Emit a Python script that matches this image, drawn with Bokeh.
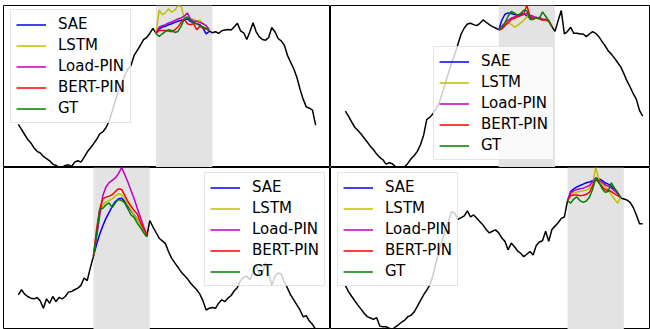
import numpy as np
from bokeh.plotting import figure
from bokeh.layouts import gridplot
from bokeh.models import Range1d, BoxAnnotation, Legend, LegendItem
from bokeh.embed import file_html
from bokeh.resources import INLINE

nan = float("nan")

# 15-minute load profiles (kW) for four test days; nan marks the masked gap
N_STEPS = 96
steps = list(range(N_STEPS))

models = ["SAE", "LSTM", "Load-PIN", "BERT-PIN", "GT"]
colors = ["#0000ff", "#bfbf00", "#bf00bf", "#ff0000", "#008000"]

# ---- day 1 ----
d1_gap_start = 44
d1_observed = [
    1.30, 1.15, 1.00, 0.85, 0.75, 0.60, 0.50, 0.45, 0.35, 0.28,
    0.22, 0.12, 0.08, 0.02, 0.03, 0.08, 0.10, 0.05, 0.18, 0.22,
    0.18, 0.32, 0.48, 0.60, 0.72, 0.85, 1.02, 1.08, 1.20, 1.40,
    1.70, 2.00, 2.30, 2.50, 2.75, 2.95, 3.05, 3.35, 3.50, 3.65,
    3.82, 3.88, 4.00, 4.15, 4.00,
] + [nan] * 16 + [
    4.08, 4.02, 4.05, 4.00, 4.08, 4.10, 4.12, 4.10, 4.20, 4.30,
    4.08, 4.02, 3.82, 4.05, 4.32, 4.05, 3.90, 3.82, 3.80, 3.88,
    4.18, 4.05, 3.85, 3.78, 3.65, 3.35, 3.15, 2.95, 2.70, 2.35,
    2.05, 1.82, 1.78, 1.72, 1.28,
]
d1_sae = [4.00, 4.13, 4.19, 4.21, 4.26, 4.29, 4.33, 4.36, 4.39, 4.41, 4.43, 4.36, 4.31, 4.29, 4.26, 4.16, 3.99, 4.06]
d1_lstm = [4.00, 4.69, 4.56, 4.61, 4.73, 4.63, 4.69, 4.83, 4.81, 4.46, 4.49, 4.41, 4.43, 4.36, 4.39, 4.29, 4.23, 4.09]
d1_loadpin = [4.00, 4.19, 4.23, 4.26, 4.31, 4.34, 4.39, 4.43, 4.46, 4.51, 4.61, 4.43, 4.36, 4.36, 4.33, 4.29, 4.23, 4.11]
d1_bertpin = [4.00, 4.09, 4.09, 4.09, 4.07, 4.05, 4.11, 4.19, 4.33, 4.43, 4.29, 4.26, 4.29, 4.11, 4.21, 4.16, 4.13, 4.09]
d1_gt = [4.00, 3.91, 3.99, 4.06, 4.11, 4.09, 4.03, 4.06, 4.21, 4.43, 4.49, 4.39, 4.33, 4.29, 4.23, 4.19, 4.15, 4.08]

# ---- day 2 ----
d2_gap_start = 49
d2_observed = [
    1.70, 1.55, 1.38, 1.22, 1.12, 1.02, 0.90, 0.78, 0.65, 0.55,
    0.42, 0.32, 0.25, 0.12, 0.16, 0.13, 0.05, 0.02, 0.03, 0.04,
    0.15, 0.28, 0.38, 0.50, 0.70, 0.98, 1.45, 1.52, 1.62, 1.78,
    1.95, 2.25, 2.55, 2.85, 3.15, 3.40, 3.70, 4.00, 4.18, 4.30,
    4.32, 4.28, 4.25, 4.32, 4.42, 4.35, 4.28, 4.22, 4.18, 4.12,
] + [nan] * 16 + [
    4.22, 4.08, 4.40, 4.70, 4.00, 4.08, 4.20, 4.02, 4.02, 4.00,
    4.00, 3.92, 4.00, 4.07, 4.02, 3.92, 3.78, 3.65, 3.50, 3.40,
    3.28, 3.15, 3.02, 2.82, 2.60, 2.42, 2.22, 2.05, 1.72, 1.55,
]
d2_sae = [4.12, 4.41, 4.59, 4.63, 4.61, 4.58, 4.56, 4.59, 4.61, 4.53, 4.49, 4.46, 4.48, 4.49, 4.44, 4.43, 4.39, 4.22]
d2_lstm = [4.12, 4.21, 4.29, 4.35, 4.29, 4.21, 4.25, 4.33, 4.41, 4.51, 4.55, 4.51, 4.47, 4.44, 4.43, 4.41, 4.36, 4.22]
d2_loadpin = [4.12, 4.23, 4.33, 4.41, 4.47, 4.51, 4.53, 4.55, 4.58, 4.61, 4.56, 4.53, 4.49, 4.46, 4.44, 4.43, 4.39, 4.22]
d2_bertpin = [4.12, 4.15, 4.25, 4.33, 4.43, 4.47, 4.51, 4.55, 4.61, 4.85, 4.53, 4.46, 4.49, 4.46, 4.41, 4.43, 4.39, 4.22]
d2_gt = [4.12, 4.19, 4.33, 4.53, 4.67, 4.63, 4.56, 4.61, 4.71, 4.69, 4.43, 4.43, 4.49, 4.46, 4.66, 4.53, 4.39, 4.22]

# ---- day 3 ----
d3_gap_start = 24
d3_observed = [
    1.04, 1.19, 1.06, 0.99, 0.94, 0.92, 0.96, 0.86, 0.64, 0.92,
    0.79, 0.99, 0.84, 0.96, 0.92, 0.99, 1.12, 1.14, 1.19, 1.24,
    1.32, 1.54, 1.46, 1.84, 2.19,
] + [nan] * 16 + [
    2.76, 3.24, 3.06, 2.89, 2.72, 2.64, 2.56, 2.32, 2.12, 1.99,
    1.86, 1.72, 1.62, 1.52, 1.39, 1.29, 1.19, 1.06, 0.86, 0.59,
    0.64, 0.66, 0.64, 0.79, 0.89, 0.84, 0.94, 1.02, 1.16, 1.26,
    1.46, 1.56, 1.59, 1.49, 1.72, 1.94, 1.64, 1.69, 1.99, 1.66,
    1.32, 1.59, 1.69, 1.66, 1.42, 1.24, 1.04, 0.89, 0.74, 0.59,
    0.39, 0.42, 0.26, 0.16, 0.01,
]
d3_sae = [2.19, 2.54, 2.84, 3.09, 3.31, 3.49, 3.67, 3.81, 3.89, 3.91, 3.81, 3.67, 3.54, 3.41, 3.29, 3.14, 2.99, 2.84]
d3_lstm = [2.19, 2.89, 3.49, 3.71, 3.79, 3.84, 3.89, 3.97, 4.04, 4.01, 3.89, 3.71, 3.57, 3.41, 3.29, 3.11, 2.94, 2.84]
d3_loadpin = [2.19, 2.74, 3.39, 3.99, 4.24, 4.37, 4.44, 4.51, 4.64, 4.82, 4.61, 4.39, 4.14, 3.89, 3.61, 3.34, 3.07, 2.84]
d3_bertpin = [2.19, 2.99, 3.59, 3.89, 3.94, 3.97, 4.01, 4.11, 4.19, 4.17, 3.99, 3.81, 3.67, 3.54, 3.44, 3.21, 3.01, 2.84]
d3_gt = [2.19, 2.84, 3.57, 3.61, 3.71, 3.77, 3.63, 3.77, 3.87, 3.84, 3.77, 3.59, 3.41, 3.34, 3.17, 3.04, 2.89, 2.76]

# ---- day 4 ----
d4_gap_start = 71
d4_observed = [
    1.34, 1.16, 1.02, 0.89, 0.76, 0.64, 0.52, 0.42, 0.38, 0.34,
    0.39, 0.14, 0.12, 0.12, 0.08, 0.04, 0.12, 0.18, 0.26, 0.32,
    0.42, 0.46, 0.56, 0.72, 0.89, 1.06, 1.20, 1.36, 1.64, 2.02,
    2.39, 2.69, 2.99, 3.26, 3.52, 3.46, 3.29, 3.34, 3.39, 3.54,
    3.36, 3.42, 3.32, 3.22, 3.12, 2.99, 2.89, 2.94, 2.98, 2.89,
    2.74, 2.64, 2.39, 2.59, 2.49, 2.36, 2.29, 2.19, 2.26, 2.34,
    2.24, 2.52, 2.62, 2.66, 2.94, 2.64, 2.99, 3.09, 3.19, 3.32,
    3.36, 3.84,
] + [nan] * 16 + [
    3.92, 3.89, 3.86, 3.79, 3.64, 3.42, 3.16, 3.16,
]
d4_sae = [3.84, 4.11, 4.19, 4.25, 4.29, 4.33, 4.37, 4.39, 4.43, 4.51, 4.49, 4.44, 4.37, 4.33, 4.27, 4.17, 4.07, 3.94]
d4_lstm = [3.84, 4.01, 4.07, 4.09, 4.11, 4.13, 4.15, 4.21, 4.34, 4.82, 4.47, 4.34, 4.27, 4.17, 4.01, 3.89, 3.77, 3.94]
d4_loadpin = [3.84, 4.07, 4.13, 4.17, 4.19, 4.21, 4.25, 4.29, 4.39, 4.49, 4.44, 4.39, 4.31, 4.27, 4.21, 4.14, 4.04, 3.94]
d4_bertpin = [3.84, 3.99, 4.01, 4.01, 3.99, 4.00, 4.03, 4.09, 4.27, 4.47, 4.37, 4.27, 4.17, 4.14, 4.11, 4.04, 3.99, 3.94]
d4_gt = [3.84, 3.77, 3.89, 3.95, 3.84, 3.79, 3.83, 3.94, 4.17, 4.51, 4.39, 4.21, 4.09, 4.11, 4.37, 4.21, 4.09, 3.92]

# ---- layout ----
LEFT_W, RIGHT_W = 330, 320
TOP_H, BOTTOM_H = 167, 162
PAD_L, PAD_T = 3, 5
X_PAD = 0.05 * (N_STEPS - 1)
X_SPAN = (N_STEPS - 1) + 2 * X_PAD
PX_PER_STEP = (LEFT_W - PAD_L) / X_SPAN


def panel(observed, gap_start, preds, legend_xy, col, row):
    width = LEFT_W if col == 0 else RIGHT_W
    height = TOP_H if row == 0 else BOTTOM_H
    frame_w = width - (PAD_L if col == 0 else 0)
    x_end = -X_PAD + frame_w / PX_PER_STEP

    all_vals = np.concatenate([np.array(observed, dtype=float)] + [np.array(v) for v in preds])
    y0, y1 = float(np.nanmin(all_vals)), float(np.nanmax(all_vals))

    p = figure(
        width=width, height=height,
        x_range=Range1d(-X_PAD, x_end), y_range=Range1d(y0, y1),
        output_backend="svg", toolbar_location=None,
        x_axis_location=None, y_axis_location=None,
        min_border=0,
        min_border_left=PAD_L if col == 0 else 0,
        min_border_top=PAD_T if row == 0 else 0,
        background_fill_color="white", border_fill_color="white",
        outline_line_color="black", outline_line_width=1,
    )
    p.xgrid.visible = False
    p.ygrid.visible = False

    gap_len = len(preds[-1])
    p.add_layout(BoxAnnotation(left=gap_start, right=gap_start + gap_len,
                               fill_color="#e3e3e3", fill_alpha=1.0,
                               line_color=None, level="underlay"))

    p.line(steps, observed, line_color="black", line_width=1.5)

    gap_x = list(range(gap_start, gap_start + gap_len))
    items = []
    for name, color, vals in zip(models, colors, preds):
        r = p.line(gap_x, vals, line_color=color, line_width=1.5)
        items.append(LegendItem(label=name, renderers=[r]))

    legend = Legend(
        items=items, location=legend_xy,
        label_text_font="DejaVu Sans", label_text_font_size="15px",
        label_text_color="black",
        glyph_width=30, glyph_height=13, label_height=13, label_width=67,
        label_standoff=12, spacing=3, padding=5, margin=0,
        border_line_color="#cccccc", border_line_width=1,
        background_fill_color="white", background_fill_alpha=0.8,
    )
    p.add_layout(legend)
    return p


tl = panel(d1_observed, d1_gap_start, [d1_sae, d1_lstm, d1_loadpin, d1_bertpin, d1_gt], (7, 44), 0, 0)
tr = panel(d2_observed, d2_gap_start, [d2_sae, d2_lstm, d2_loadpin, d2_bertpin, d2_gt], (103, 7), 1, 0)
bl = panel(d3_observed, d3_gap_start, [d3_sae, d3_lstm, d3_loadpin, d3_bertpin, d3_gt], (201, 43), 0, 1)
br = panel(d4_observed, d4_gap_start, [d4_sae, d4_lstm, d4_loadpin, d4_bertpin, d4_gt], (7, 43), 1, 1)

grid = gridplot([[tl, tr], [bl, br]], toolbar_location=None)

open("out.html", "w").write(file_html(grid, INLINE))
